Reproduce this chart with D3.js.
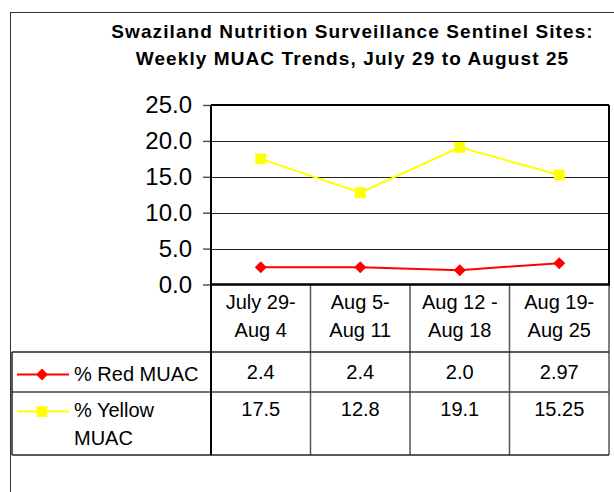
<!DOCTYPE html>
<html>
<head>
<meta charset="utf-8">
<script src="https://cdn.jsdelivr.net/npm/d3@7/dist/d3.min.js"></script>
<style>
  html, body { margin: 0; padding: 0; background: #fff; }
  svg { display: block; font-family: "Liberation Sans", Arial, sans-serif; }
</style>
</head>
<body>
<svg id="chart" width="614" height="492"></svg>
<script>
// ---- data ----
const titleLines = ["Swaziland Nutrition Surveillance Sentinel Sites:", "Weekly MUAC Trends, July 29 to August 25"];
const categories = ["July 29-\nAug 4", "Aug 5-\nAug 11", "Aug 12 -\nAug 18", "Aug 19-\nAug 25"];
const seriesNames = ["% Red MUAC", "% Yellow\nMUAC"];
const redValues = [2.4, 2.4, 2.0, 2.97];
const yellowValues = [17.5, 12.8, 19.1, 15.25];
const redLabels = ["2.4", "2.4", "2.0", "2.97"];
const yellowLabels = ["17.5", "12.8", "19.1", "15.25"];
const yTicks = [0, 5, 10, 15, 20, 25];

const series = [
  { name: seriesNames[0], values: redValues, labels: redLabels, color: "#ff0000", marker: "diamond" },
  { name: seriesNames[1], values: yellowValues, labels: yellowLabels, color: "#ffff00", marker: "square" }
];

// ---- layout ----
const svg = d3.select("#chart");
const plot = { left: 211, right: 609, top: 105, bottom: 284.5 };
const table = { left: 12, headerBottom: 352, rowBottoms: [392, 455] };

const x = d3.scaleBand().domain(categories).range([plot.left, plot.right]).padding(0);
const y = d3.scaleLinear().domain([0, 25]).range([plot.bottom, plot.top]);

// outer frame
svg.append("rect").attr("x", 10.5).attr("y", 12.5).attr("width", 640).attr("height", 520)
  .attr("fill", "none").attr("stroke", "#333").attr("stroke-width", 1);

// title
svg.append("g").selectAll("text").data(titleLines).join("text")
  .attr("x", 352.5).attr("y", (d, i) => 38 + i * 27)
  .attr("text-anchor", "middle").attr("font-size", 19).attr("font-weight", "bold")
  .attr("letter-spacing", 1.1)
  .attr("fill", "#000").text(d => d);

// gridlines
svg.append("g").selectAll("line").data(yTicks.filter(t => t > 0 && t < 25)).join("line")
  .attr("x1", plot.left).attr("x2", plot.right)
  .attr("y1", d => Math.round(y(d)) + 0.5).attr("y2", d => Math.round(y(d)) + 0.5)
  .attr("stroke", "#222").attr("stroke-width", 1);

// y axis
const yAxis = d3.axisLeft(y).tickValues(yTicks).tickFormat(d3.format(".1f")).tickSize(8).tickPadding(11);
const ya = svg.append("g").attr("transform", `translate(${plot.left},0)`).call(yAxis);
ya.select(".domain").remove();
ya.selectAll(".tick line").attr("stroke", "#555").attr("stroke-width", 1.5);
ya.selectAll(".tick text").attr("font-size", 24).attr("font-family", "Liberation Sans, Arial, sans-serif")
  .attr("fill", "#000").attr("dy", "0.33em");

// plot border (top, right)
svg.append("line").attr("x1", plot.left).attr("x2", plot.right).attr("y1", plot.top).attr("y2", plot.top)
  .attr("stroke", "#000").attr("stroke-width", 2);
svg.append("line").attr("x1", plot.right).attr("x2", plot.right).attr("y1", plot.top).attr("y2", plot.bottom)
  .attr("stroke", "#000").attr("stroke-width", 2);

// ---- data table ----
const tg = svg.append("g");
const allBottom = table.rowBottoms[table.rowBottoms.length - 1];
const colEdges = categories.map(c => x(c)).concat([plot.right]);
tg.selectAll("line.col").data(colEdges.slice(1)).join("line").attr("class", "col")
  .attr("x1", d => d).attr("x2", d => d).attr("y1", plot.bottom).attr("y2", allBottom)
  .attr("stroke", "#555").attr("stroke-width", 1.5);
[table.headerBottom].concat(table.rowBottoms).forEach((yy, i) => {
  tg.append("line").attr("x1", table.left).attr("x2", plot.right).attr("y1", yy).attr("y2", yy)
    .attr("stroke", i === 1 ? "#444" : "#222").attr("stroke-width", 1.5);
});
tg.append("line").attr("x1", table.left).attr("x2", table.left).attr("y1", table.headerBottom).attr("y2", allBottom)
  .attr("stroke", "#222").attr("stroke-width", 1.5);
svg.append("line").attr("x1", plot.left).attr("x2", plot.left).attr("y1", plot.top).attr("y2", allBottom)
  .attr("stroke", "#000").attr("stroke-width", 2);
svg.append("line").attr("x1", plot.left - 1).attr("x2", plot.right + 1).attr("y1", plot.bottom).attr("y2", plot.bottom)
  .attr("stroke", "#000").attr("stroke-width", 2.5);

// header category labels
const hdr = tg.selectAll("text.cat").data(categories).join("text").attr("class", "cat")
  .attr("text-anchor", "middle").attr("font-size", 20).attr("fill", "#000");
hdr.each(function (d) {
  const t = d3.select(this);
  d.split("\n").forEach((ln, i) => {
    t.append("tspan").attr("x", x(d) + x.bandwidth() / 2).attr("y", 309 + i * 27.5).text(ln);
  });
});

// rows: legend keys, names, values
const keyY = [374.5, 411.5];
const nameBase = [380.5, 417];
const valueBase = [379, 416];
series.forEach((s, si) => {
  const g = tg.append("g");
  g.append("line").attr("x1", 17).attr("x2", 69).attr("y1", keyY[si]).attr("y2", keyY[si])
    .attr("stroke", s.color).attr("stroke-width", 2);
  g.append("path").attr("d", s.marker === "diamond" ? d3.symbol(d3.symbolSquare, 70)() : d3.symbol(d3.symbolSquare, 115)())
    .attr("transform", `translate(42,${keyY[si]})` + (s.marker === "diamond" ? " rotate(45)" : ""))
    .attr("fill", s.color);
  const nt = g.append("text").attr("font-size", 20).attr("fill", "#000");
  s.name.split("\n").forEach((ln, i) => {
    nt.append("tspan").attr("x", 74).attr("y", nameBase[si] + i * 28).text(ln);
  });
  g.selectAll("text.val").data(s.labels).join("text").attr("class", "val")
    .attr("x", (d, i) => x(categories[i]) + x.bandwidth() / 2).attr("y", valueBase[si])
    .attr("text-anchor", "middle").attr("font-size", 20).attr("fill", "#000").text(d => d);
});

// ---- lines & markers ----
const line = d3.line().x((d, i) => x(categories[i]) + x.bandwidth() / 2).y(d => y(d));
series.slice().reverse().forEach(s => {
  svg.append("path").datum(s.values).attr("d", line).attr("fill", "none")
    .attr("stroke", s.color).attr("stroke-width", 2);
  svg.append("g").selectAll("path").data(s.values).join("path")
    .attr("d", s.marker === "diamond" ? d3.symbol(d3.symbolSquare, 72)() : d3.symbol(d3.symbolSquare, 115)())
    .attr("transform", (d, i) => `translate(${x(categories[i]) + x.bandwidth() / 2},${y(d)})` + (s.marker === "diamond" ? " rotate(45)" : ""))
    .attr("fill", s.color);
});
</script>
</body>
</html>
